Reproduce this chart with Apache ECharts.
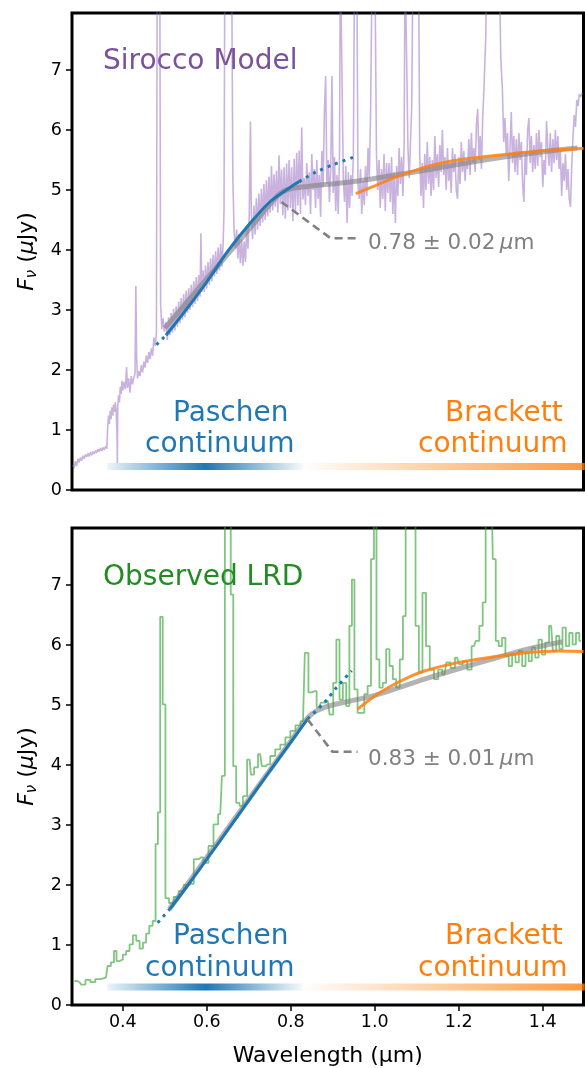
<!DOCTYPE html>
<html>
<head>
<meta charset="utf-8">
<script src="https://cdn.jsdelivr.net/npm/echarts@6.0.0/dist/echarts.min.js"></script>
<style>
  html, body { margin: 0; padding: 0; background: #fff; }
  #main { width: 585px; height: 1068px; }
</style>
</head>
<body>
<div id="main"></div>
<script>
// Sirocco model spectrum, [wavelength (um), F_nu (uJy)]
const siroccoSpec = [
  [0.281,0.42],[0.284,0.36],[0.287,0.48],[0.290,0.40],[0.293,0.52],[0.296,0.46],[0.299,0.54],[0.302,0.49],
  [0.305,0.57],[0.308,0.52],[0.311,0.59],[0.314,0.55],[0.317,0.61],[0.320,0.56],[0.323,0.63],[0.326,0.58],
  [0.329,0.64],[0.332,0.60],[0.335,0.66],[0.338,0.62],[0.341,0.68],[0.344,0.64],[0.347,0.70],[0.350,0.65],
  [0.353,0.71],[0.356,0.67],[0.359,0.73],[0.362,0.69],
  [0.364,1.05],[0.366,1.24],[0.368,1.10],[0.370,1.32],[0.372,1.18],[0.374,1.38],[0.376,1.24],[0.378,1.42],
  [0.380,1.30],[0.382,1.46],[0.384,1.34],[0.386,0.95],[0.387,0.45],[0.388,1.40],[0.390,1.58],[0.392,1.46],
  [0.394,1.72],[0.396,1.60],[0.398,1.82],[0.400,1.66],[0.403,1.80],[0.406,1.68],[0.409,2.05],[0.411,1.70],
  [0.414,1.86],[0.417,1.62],[0.420,1.90],[0.423,1.76],[0.426,1.86],[0.429,1.94],[0.431,3.40],[0.433,2.20],
  [0.435,1.86],[0.438,1.98],[0.441,1.90],[0.444,2.08],[0.447,1.96],[0.450,2.14],[0.453,2.04],[0.456,2.24],
  [0.459,2.12],[0.462,2.30],[0.465,2.18],[0.468,2.36],[0.471,2.24],[0.474,2.54],[0.477,2.40],[0.480,2.62],
  [0.482,9],[0.488,9],[0.490,3.10],[0.493,2.68],[0.496,2.86],[0.499,2.64],
  [0.503,2.80],[0.506,2.50],[0.509,2.88],[0.512,2.58],[0.515,2.95],[0.518,2.62],[0.521,3.02],[0.524,2.66],
  [0.527,3.06],[0.530,2.72],[0.533,3.14],[0.536,2.78],[0.539,3.20],[0.542,2.84],[0.545,3.26],[0.548,2.88],
  [0.551,3.32],[0.554,2.95],[0.557,3.36],[0.560,3.00],[0.563,3.42],[0.566,3.05],[0.569,3.48],[0.572,3.10],
  [0.575,3.55],[0.578,3.15],[0.581,3.58],[0.584,3.22],[0.586,4.28],[0.588,3.30],[0.591,3.66],[0.594,3.30],
  [0.597,3.74],[0.600,3.36],[0.603,3.80],[0.606,3.42],[0.609,3.86],[0.612,3.48],[0.615,3.92],[0.618,3.56],
  [0.621,3.98],[0.624,3.60],[0.627,4.04],[0.630,3.66],[0.633,4.10],[0.636,3.72],[0.639,4.14],[0.641,4.66],
  [0.643,9],[0.659,9],[0.662,5.20],[0.665,4.30],[0.668,4.02],[0.671,4.34],[0.674,3.86],[0.677,4.26],
  [0.680,3.78],[0.683,4.18],[0.686,3.74],[0.689,4.14],[0.692,3.80],[0.695,4.40],[0.698,4.02],[0.701,4.56],
  [0.704,6.14],[0.706,4.58],[0.709,4.18],[0.712,4.74],[0.715,4.26],[0.718,4.86],[0.721,4.34],[0.724,4.94],
  [0.727,4.40],[0.730,5.02],[0.733,4.46],[0.736,5.10],[0.739,4.50],[0.742,5.16],[0.745,4.56],[0.748,5.22],
  [0.751,4.62],[0.754,5.40],[0.757,4.66],[0.760,5.26],[0.763,4.72],[0.766,5.32],[0.769,4.62],[0.772,5.58],
  [0.775,4.76],[0.778,5.34],[0.781,4.58],[0.784,5.38],[0.787,4.52],[0.790,5.44],[0.793,4.66],[0.796,5.50],
  [0.799,4.70],[0.802,5.38],[0.805,4.48],[0.808,5.52],[0.811,4.62],[0.814,5.62],[0.817,4.74],[0.820,5.66],
  [0.823,4.60],[0.826,6.04],[0.829,4.84],
  [0.832,5.20],[0.835,4.75],[0.838,5.45],[0.841,4.90],[0.844,5.30],[0.847,4.60],[0.850,5.60],[0.853,5.00],
  [0.856,5.35],[0.859,4.70],[0.862,5.50],[0.865,4.85],[0.868,5.25],[0.871,4.55],[0.874,5.65],[0.877,5.05],
  [0.880,6.30],[0.883,6.90],[0.886,5.10],[0.889,5.50],[0.892,4.80],[0.895,5.35],[0.898,6.90],[0.901,4.95],
  [0.904,5.55],[0.907,4.65],[0.910,5.25],[0.913,4.60],[0.916,5.60],[0.918,9],[0.922,9],[0.925,5.20],
  [0.928,4.80],[0.931,5.40],[0.934,4.45],[0.937,5.30],[0.940,4.70],[0.943,5.25],[0.946,4.90],[0.949,5.60],
  [0.952,9],[0.957,9],[0.960,5.10],[0.963,4.85],[0.966,5.35],[0.969,4.60],[0.972,5.15],[0.975,4.75],
  [0.978,5.40],[0.981,4.90],[0.984,5.70],[0.987,5.20],[0.990,6.30],[0.994,9],[1.000,9],[1.004,5.60],
  [1.007,5.00],[1.010,5.50],[1.013,4.70],[1.016,5.35],[1.019,4.85],[1.022,5.60],[1.025,4.65],[1.028,5.45],
  [1.031,4.95],[1.034,5.45],[1.037,4.80],[1.040,5.55],[1.043,4.60],[1.046,5.30],[1.049,4.45],[1.052,5.40],
  [1.055,4.90],[1.058,5.70],[1.061,5.10],[1.064,5.55],[1.067,4.90],[1.070,5.80],[1.072,9],[1.076,9],
  [1.079,5.70],[1.082,5.20],[1.085,5.80],[1.088,6.40],[1.091,9],[1.104,9],[1.107,5.60],[1.110,4.90],
  [1.113,5.45],[1.116,4.70],[1.119,5.60],[1.122,5.00],[1.125,5.80],[1.128,5.10],[1.131,5.55],[1.134,4.90],
  [1.137,5.50],[1.140,5.00],[1.143,5.90],[1.146,5.20],[1.149,5.60],[1.152,5.05],[1.155,5.75],[1.158,5.30],
  [1.161,6.00],[1.164,5.25],[1.167,5.55],[1.170,5.00],[1.173,5.70],[1.176,5.15],[1.179,5.45],[1.182,4.95],
  [1.185,5.70],[1.188,5.30],[1.191,5.60],[1.194,5.00],[1.197,4.85],[1.200,5.55],[1.203,5.10],[1.206,5.80],
  [1.209,5.30],[1.212,5.65],[1.215,5.15],[1.218,5.50],[1.221,5.35],[1.224,5.85],[1.227,5.25],[1.230,5.95],
  [1.233,5.45],[1.236,5.70],[1.239,5.30],[1.242,6.10],[1.245,6.35],[1.248,5.50],[1.251,5.90],[1.254,5.35],
  [1.257,6.20],[1.260,6.70],[1.264,7.50],[1.268,9],[1.296,9],[1.300,7.20],[1.304,6.65],[1.307,5.80],
  [1.310,6.20],[1.313,5.60],[1.316,5.95],[1.319,5.15],[1.322,5.70],[1.325,6.30],[1.328,5.45],[1.331,5.90],
  [1.334,5.30],[1.337,5.85],[1.340,5.25],[1.343,5.95],[1.346,5.50],[1.349,5.80],[1.352,5.10],[1.355,4.80],
  [1.358,5.60],[1.361,5.25],[1.364,6.00],[1.367,6.20],[1.370,5.45],[1.373,5.90],[1.376,5.30],[1.379,5.75],
  [1.382,5.35],[1.385,5.95],[1.388,5.40],[1.391,6.00],[1.394,5.55],[1.397,5.80],[1.400,5.05],[1.403,5.50],
  [1.406,5.25],[1.409,6.15],[1.412,5.70],[1.415,5.40],[1.418,5.95],[1.421,5.30],[1.424,5.85],[1.427,5.45],
  [1.430,6.00],[1.433,5.50],[1.436,5.90],[1.439,5.35],[1.442,5.65],[1.445,4.90],[1.448,5.45],[1.451,5.15],
  [1.454,5.60],[1.457,5.00],[1.460,5.35],[1.463,4.85],[1.466,4.72],[1.469,5.40],[1.472,5.90],[1.475,6.25],
  [1.478,6.05],[1.481,6.50],[1.484,6.40],[1.487,6.60],[1.490,6.55],[1.494,6.62]
]

// observed LRD spectrum (drawn as steps), bottom panel
const observedSpec = [
  [0.285,0.40],[0.297,0.38],[0.305,0.34],[0.317,0.42],[0.329,0.38],[0.340,0.43],[0.352,0.44],[0.360,0.46],
  [0.367,0.65],[0.376,0.71],[0.382,0.90],[0.388,0.73],[0.396,0.76],[0.404,0.84],[0.412,0.90],[0.420,1.01],
  [0.428,1.16],[0.436,1.07],[0.444,0.94],[0.452,1.04],[0.459,1.19],[0.467,1.32],[0.475,1.40],[0.481,2.68],
  [0.486,3.21],[0.492,6.47],[0.498,5.01],[0.505,1.78],[0.515,1.70],[0.527,1.80],[0.539,1.90],[0.551,2.00],
  [0.563,2.02],[0.575,2.43],[0.586,2.46],[0.598,2.37],[0.610,2.65],[0.622,3.01],[0.632,3.18],[0.640,3.82],
  [0.646,9],[0.654,9],[0.660,6.84],[0.666,3.98],[0.674,3.37],[0.682,3.32],[0.690,3.48],[0.702,4.09],
  [0.708,3.84],[0.717,3.96],[0.727,4.18],[0.735,3.98],[0.745,4.01],[0.757,4.15],[0.769,4.26],[0.781,4.34],
  [0.793,4.46],[0.805,4.57],[0.817,4.66],[0.829,4.73],[0.838,5.87],[0.846,5.21],[0.856,5.23],[0.867,4.96],
  [0.876,5.04],[0.888,5.07],[0.897,4.84],[0.905,5.37],[0.912,6.09],[0.920,5.09],[0.928,5.37],[0.936,4.98],
  [0.943,6.32],[0.948,7.09],[0.955,5.26],[0.963,4.87],[0.971,4.87],[0.979,5.18],[0.987,5.32],[0.995,7.43],
  [1.001,9],[1.007,5.76],[1.015,5.29],[1.023,5.37],[1.031,5.93],[1.039,5.65],[1.047,5.43],[1.055,5.29],
  [1.064,5.76],[1.070,6.48],[1.077,9],[1.085,9],[1.093,9],[1.101,6.32],[1.109,5.54],[1.118,6.87],
  [1.126,5.98],[1.136,5.59],[1.146,5.43],[1.156,5.59],[1.166,5.51],[1.175,5.71],[1.186,5.62],[1.196,5.79],
  [1.205,5.68],[1.215,5.73],[1.225,5.59],[1.236,5.98],[1.245,6.07],[1.253,6.32],[1.261,6.71],[1.267,9],
  [1.277,9],[1.285,7.43],[1.291,6.07],[1.299,5.98],[1.307,6.12],[1.315,5.82],[1.323,5.65],[1.331,5.84],
  [1.339,5.71],[1.347,5.90],[1.355,5.65],[1.363,5.87],[1.370,5.73],[1.378,5.96],[1.386,5.79],[1.394,6.09],
  [1.402,5.84],[1.410,6.04],[1.420,6.32],[1.428,5.90],[1.436,6.15],[1.443,5.93],[1.451,6.29],[1.459,5.98],
  [1.467,6.20],[1.475,6.01],[1.483,6.20],[1.491,6.07]
]

// broken power-law fits (grey), Paschen fits (blue), Brackett fits (orange)
const brokenFitTop = [[0.50,2.70],[0.60,3.52],[0.70,4.34],[0.76,4.84],[0.78,4.97],[0.80,5.02],[0.84,5.06],
  [0.88,5.09],[0.95,5.14],[1.04,5.24],[1.12,5.33],[1.20,5.43],[1.28,5.52],[1.36,5.60],[1.44,5.67],[1.483,5.70]]
const paschenLoTop = [[0.480,2.42],[0.503,2.58]]
const paschenTop = [[0.503,2.58],[0.55,3.00],[0.60,3.47],[0.65,3.98],[0.70,4.42],[0.75,4.80],[0.80,5.05],[0.82,5.14]]
const paschenHiTop = [[0.82,5.14],[0.86,5.30],[0.90,5.42],[0.955,5.56]]
const brackettTop = [[0.955,4.94],[1.00,5.07],[1.04,5.19],[1.08,5.29],[1.12,5.38],[1.16,5.45],[1.20,5.50],
  [1.28,5.57],[1.36,5.63],[1.44,5.67],[1.497,5.69]]
const breakPointerTop = [[0.778,4.80],[0.895,4.195],[0.959,4.195]]

const brokenFitBot = [[0.511,1.60],[0.60,2.46],[0.70,3.43],[0.80,4.40],[0.83,4.70],[0.85,4.85],[0.88,4.96],
  [0.93,5.05],[1.00,5.16],[1.118,5.43],[1.197,5.60],[1.277,5.76],[1.356,5.92],[1.436,6.04],[1.447,6.05]]
const paschenLoBot = [[0.483,1.37],[0.511,1.59]]
const paschenBot = [[0.511,1.59],[0.55,1.95],[0.60,2.43],[0.65,2.92],[0.70,3.41],[0.75,3.90],[0.80,4.38],[0.84,4.77]]
const paschenHiBot = [[0.84,4.77],[0.88,5.04],[0.91,5.30],[0.945,5.57]]
const brackettBot = [[0.959,4.93],[1.00,5.15],[1.04,5.32],[1.08,5.46],[1.12,5.57],[1.20,5.71],[1.28,5.80],
  [1.36,5.87],[1.44,5.90],[1.497,5.89]]
const breakPointerBot = [[0.840,4.76],[0.899,4.22],[0.959,4.22]]

// continuum bands along the bottom of each panel
const paschenBandX = [0.363, 0.83]
const brackettBandX = [0.83, 1.50]
const bandYTop = 0.39
const bandYBot = 0.30

const xTicks = [0.4, 0.6, 0.8, 1.0, 1.2, 1.4]
const yTicks = [0, 1, 2, 3, 4, 5, 6, 7]

const FONT = 'DejaVu Sans'
const X_MIN = 0.279
const X_MAX = 1.497
const Y_MAX = 7.95
const BLUE = '#1f77b4'
const ORANGE = '#ff7f0e'

const myChart = echarts.init(document.getElementById('main'), null, { renderer: 'canvas' })

function xAxisFor (gridIndex, withLabels) {
  return {
    type: 'value',
    gridIndex: gridIndex,
    min: X_MIN,
    max: X_MAX,
    axisLine: { show: false },
    splitLine: { show: false },
    axisTick: {
      show: withLabels,
      customValues: xTicks,
      length: 6,
      lineStyle: { color: '#000', width: 1.5 }
    },
    axisLabel: {
      show: withLabels,
      customValues: xTicks,
      formatter: (v) => v.toFixed(1),
      margin: 8,
      fontFamily: FONT,
      fontSize: 17.5,
      color: '#000'
    },
    name: withLabels ? 'Wavelength (μm)' : '',
    nameLocation: 'middle',
    nameGap: 40,
    nameTextStyle: { fontFamily: FONT, fontSize: 22, color: '#000' }
  }
}

function yAxisFor (gridIndex) {
  const tok = { fontFamily: FONT, fontSize: 22, lineHeight: 26, color: '#000' }
  return {
    type: 'value',
    gridIndex: gridIndex,
    min: 0,
    max: Y_MAX,
    axisLine: { show: false },
    splitLine: { show: false },
    axisTick: {
      show: true,
      customValues: yTicks,
      length: 6,
      lineStyle: { color: '#000', width: 1.5 }
    },
    axisLabel: {
      customValues: yTicks,
      margin: 10,
      fontFamily: FONT,
      fontSize: 17.5,
      color: '#000'
    },
    name: '{i|F}{s|ν}{n| (}{i|μ}{n|Jy)}',
    nameLocation: 'middle',
    nameGap: 27,
    nameTextStyle: {
      fontFamily: FONT,
      fontSize: 22,
      color: '#000',
      rich: {
        i: Object.assign({}, tok, { fontStyle: 'italic' }),
        n: tok,
        s: { fontFamily: FONT, fontSize: 15, fontStyle: 'italic', lineHeight: 14, verticalAlign: 'bottom', color: '#000' }
      }
    }
  }
}

function line (data, panel, style, extra) {
  return Object.assign({
    type: 'line',
    xAxisIndex: panel,
    yAxisIndex: panel,
    data: data,
    symbol: 'none',
    silent: true,
    animation: false,
    lineStyle: style
  }, extra || {})
}

function band (xs, y, panel, stops) {
  return line([[xs[0], y], [xs[1], y]], panel, {
    width: 7,
    cap: 'butt',
    color: new echarts.graphic.LinearGradient(0, 0, 1, 0, stops)
  })
}

const blueStops = [
  { offset: 0, color: 'rgba(31,119,180,0.05)' },
  { offset: 0.5, color: 'rgba(31,119,180,1)' },
  { offset: 1, color: 'rgba(31,119,180,0)' }
]
const orangeStops = [
  { offset: 0, color: 'rgba(255,127,14,0)' },
  { offset: 1, color: 'rgba(255,127,14,0.8)' }
]

function panelSeries (panel, spec, specStyle, specExtra, fits) {
  return [
    line(spec, panel, specStyle, specExtra),
    line(fits.broken, panel, { color: 'rgba(128,128,128,0.6)', width: 5 }, { smooth: 0.3 }),
    line(fits.lo, panel, { color: BLUE, width: 3, type: [3, 5] }),
    line(fits.pas, panel, { color: BLUE, width: 3 }, { smooth: 0.3 }),
    line(fits.hi, panel, { color: BLUE, width: 3, type: [3, 5] }, { smooth: 0.3 }),
    line(fits.bra, panel, { color: 'rgba(255,127,14,0.85)', width: 3 }, { smooth: 0.3 }),
    line(fits.pointer, panel, { color: '#808080', width: 2.6, type: [8, 5] }),
    band(paschenBandX, fits.bandY, panel, blueStops),
    band(brackettBandX, fits.bandY, panel, orangeStops)
  ]
}

function label (text, x, y, color, size) {
  return {
    type: 'text',
    x: x,
    y: y,
    silent: true,
    style: {
      text: text,
      fill: color,
      font: size + 'px "' + FONT + '"',
      textAlign: 'left',
      textVerticalAlign: 'middle'
    }
  }
}

function pointerLabel (text, x, y) {
  const el = label(text, x, y, '#808080', 21.5)
  el.style.rich = { i: { font: 'italic 21.5px "' + FONT + '"', fill: '#808080' } }
  return el
}

const option = {
  backgroundColor: '#fff',
  animation: false,
  grid: [
    { left: 72, top: 13, width: 511.5, height: 477, show: true, borderColor: '#000', borderWidth: 3, backgroundColor: 'transparent' },
    { left: 72, top: 528, width: 511.5, height: 477, show: true, borderColor: '#000', borderWidth: 3, backgroundColor: 'transparent' }
  ],
  xAxis: [xAxisFor(0, false), xAxisFor(1, true)],
  yAxis: [yAxisFor(0), yAxisFor(1)],
  series: [].concat(
    panelSeries(0, siroccoSpec, { color: 'rgba(148,103,189,0.5)', width: 1.6 }, {}, {
      broken: brokenFitTop, lo: paschenLoTop, pas: paschenTop, hi: paschenHiTop,
      bra: brackettTop, pointer: breakPointerTop, bandY: bandYTop
    }),
    panelSeries(1, observedSpec, { color: 'rgba(44,160,44,0.6)', width: 1.8 }, { step: 'middle' }, {
      broken: brokenFitBot, lo: paschenLoBot, pas: paschenBot, hi: paschenHiBot,
      bra: brackettBot, pointer: breakPointerBot, bandY: bandYBot
    })
  ),
  graphic: [
    label('Sirocco Model', 103, 62, '#7b519d', 28),
    label('Paschen', 173, 413.5, BLUE, 28),
    label('continuum', 145, 445, BLUE, 28),
    label('Brackett', 445, 413.5, ORANGE, 28),
    label('continuum', 418, 445, ORANGE, 28),
    pointerLabel('0.78 ± 0.02\u2009{i|μ}m', 368, 243.5),
    label('Observed LRD', 103, 578, '#228b22', 28),
    label('Paschen', 173, 937, BLUE, 28),
    label('continuum', 145, 969, BLUE, 28),
    label('Brackett', 445, 937, ORANGE, 28),
    label('continuum', 418, 969, ORANGE, 28),
    pointerLabel('0.83 ± 0.01\u2009{i|μ}m', 368, 759.5)
  ]
}

myChart.setOption(option)
</script>
</body>
</html>
